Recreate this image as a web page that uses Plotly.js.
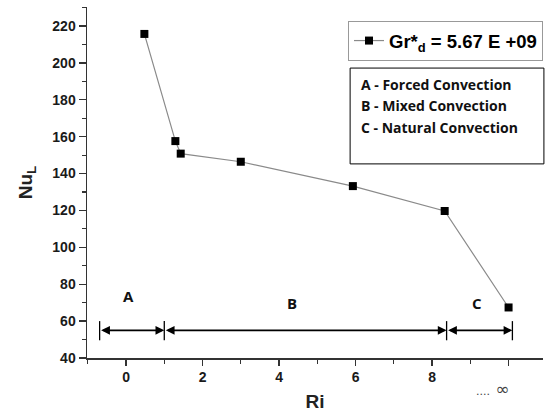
<!DOCTYPE html>
<html>
<head>
<meta charset="utf-8">
<script src="https://cdn.plot.ly/plotly-3.0.1.min.js"></script>
<style>html,body{margin:0;padding:0;background:#fff;}#chart{width:547px;height:412px;}</style>
</head>
<body>
<div id="chart"></div>
<script>
// Data
const riValues = [0.48, 1.29, 1.43, 3.0, 5.93, 8.33, 10.0];
const nuValues = [215.7, 157.6, 150.8, 146.4, 133.2, 119.7, 67.4];
const seriesName = 'Gr*<sub>d</sub> = 5.67 E +09';

const xTickVals = [0, 2, 4, 6, 8, 10];
const xTickText = ['0', '2', '4', '6', '8', ''];
const infinityLabel = '<span style="font-size:11px">....</span> \u221E';

// Regime bounds (Ri) and arrow level (Nu)
const regionBounds = [-0.69, 1.0, 8.38, 10.1];
const arrowLevel = 55;
const barLow = 49.6, barHigh = 60;
const regionLetters = ['A', 'B', 'C'];
const regionLetterX = [0.07, 4.34, 9.18];
const regionLetterY = [73.7, 69.6, 69.6];

const boxLines = ['A - Forced Convection', 'B - Mixed Convection', 'C - Natural Convection'];

const tickFont = {family: 'Liberation Sans, Arial, sans-serif', size: 14, color: '#1a1a1a', weight: 'bold'};
const boxFont = {family: 'Open Sans, sans-serif', size: 14, color: '#111', weight: 'bold'};
const letterFont = {family: 'Open Sans, sans-serif', size: 15, color: '#111', weight: 'bold'};

const trace = {
  x: riValues, y: nuValues, name: seriesName,
  type: 'scatter', mode: 'lines+markers',
  line: {color: '#8a8a8a', width: 1.2},
  marker: {symbol: 'square', size: 8, color: '#000'}
};

const annotations = [];
const shapes = [];
for (let i = 0; i < regionBounds.length - 1; i++) {
  annotations.push({
    x: regionBounds[i + 1], y: arrowLevel, xref: 'x', yref: 'y',
    ax: regionBounds[i], ay: arrowLevel, axref: 'x', ayref: 'y',
    text: '', showarrow: true, arrowside: 'end+start', arrowhead: 2,
    arrowsize: 1.1, arrowwidth: 1.6, arrowcolor: '#000', standoff: 0, startstandoff: 0
  });
  annotations.push({
    x: regionLetterX[i], y: regionLetterY[i], xref: 'x', yref: 'y',
    text: regionLetters[i], showarrow: false, font: letterFont
  });
}
for (let i = 0; i < regionBounds.length; i++) {
  shapes.push({type: 'line', xref: 'x', yref: 'y', x0: regionBounds[i], x1: regionBounds[i],
    y0: barLow, y1: barHigh, line: {color: '#000', width: 1.3}});
}
// Text box
shapes.push({type: 'rect', xref: 'paper', yref: 'paper', x0: 0.577, x1: 1.002, y0: 0.553, y1: 0.826,
  line: {color: '#000', width: 1}, fillcolor: 'rgba(0,0,0,0)'});
const boxLineY = [0.779, 0.719, 0.656];
for (let i = 0; i < boxLines.length; i++) {
  annotations.push({x: 0.597, y: boxLineY[i], xref: 'paper', yref: 'paper', xanchor: 'left', yanchor: 'middle',
    text: boxLines[i], showarrow: false, font: boxFont});
}
annotations.push({x: 0.89, y: -0.088, xref: 'paper', yref: 'paper', xanchor: 'center', yanchor: 'middle',
  text: infinityLabel, showarrow: false, font: {family: 'DejaVu Sans, sans-serif', size: 17, color: '#444'}});

const layout = {
  width: 547, height: 412,
  margin: {l: 87, r: 4, t: 7, b: 54},
  paper_bgcolor: '#fff', plot_bgcolor: '#fff',
  showlegend: true,
  legend: {x: 1.0, y: 0.96, xanchor: 'right', yanchor: 'top', bordercolor: '#999', borderwidth: 1,
    bgcolor: '#fff',
    font: {family: 'Liberation Sans, Arial, sans-serif', size: 18.5, color: '#000', weight: 'bold'}},
  xaxis: {
    range: [-1.02, 10.9], showgrid: false, zeroline: false,
    showline: true, linecolor: '#333', linewidth: 1.5,
    tickmode: 'array', tickvals: xTickVals, ticktext: xTickText,
    ticks: 'outside', ticklen: 6, tickwidth: 1.3, tickcolor: '#333',
    minor: {dtick: 1, tick0: 1, ticks: 'outside', ticklen: 4, tickwidth: 1.2, tickcolor: '#333', showgrid: false},
    tickfont: tickFont,
    title: {text: 'Ri', font: {family: 'Liberation Sans, Arial, sans-serif', size: 19, color: '#222', weight: 'bold'}, standoff: 17}
  },
  yaxis: {
    range: [40, 230.3], showgrid: false, zeroline: false,
    showline: true, linecolor: '#333', linewidth: 1.5,
    dtick: 20, tick0: 40,
    ticks: 'outside', ticklen: 7, tickwidth: 1.3, tickcolor: '#333',
    minor: {dtick: 10, ticks: 'outside', ticklen: 4, tickwidth: 1.2, tickcolor: '#333', showgrid: false},
    tickfont: tickFont,
    title: {text: 'Nu<sub>L</sub>', font: {family: 'Liberation Sans, Arial, sans-serif', size: 19, color: '#222', weight: 'bold'}, standoff: 14}
  },
  annotations: annotations,
  shapes: shapes
};

Plotly.newPlot('chart', [trace], layout, {displayModeBar: false, staticPlot: true});
</script>
</body>
</html>
